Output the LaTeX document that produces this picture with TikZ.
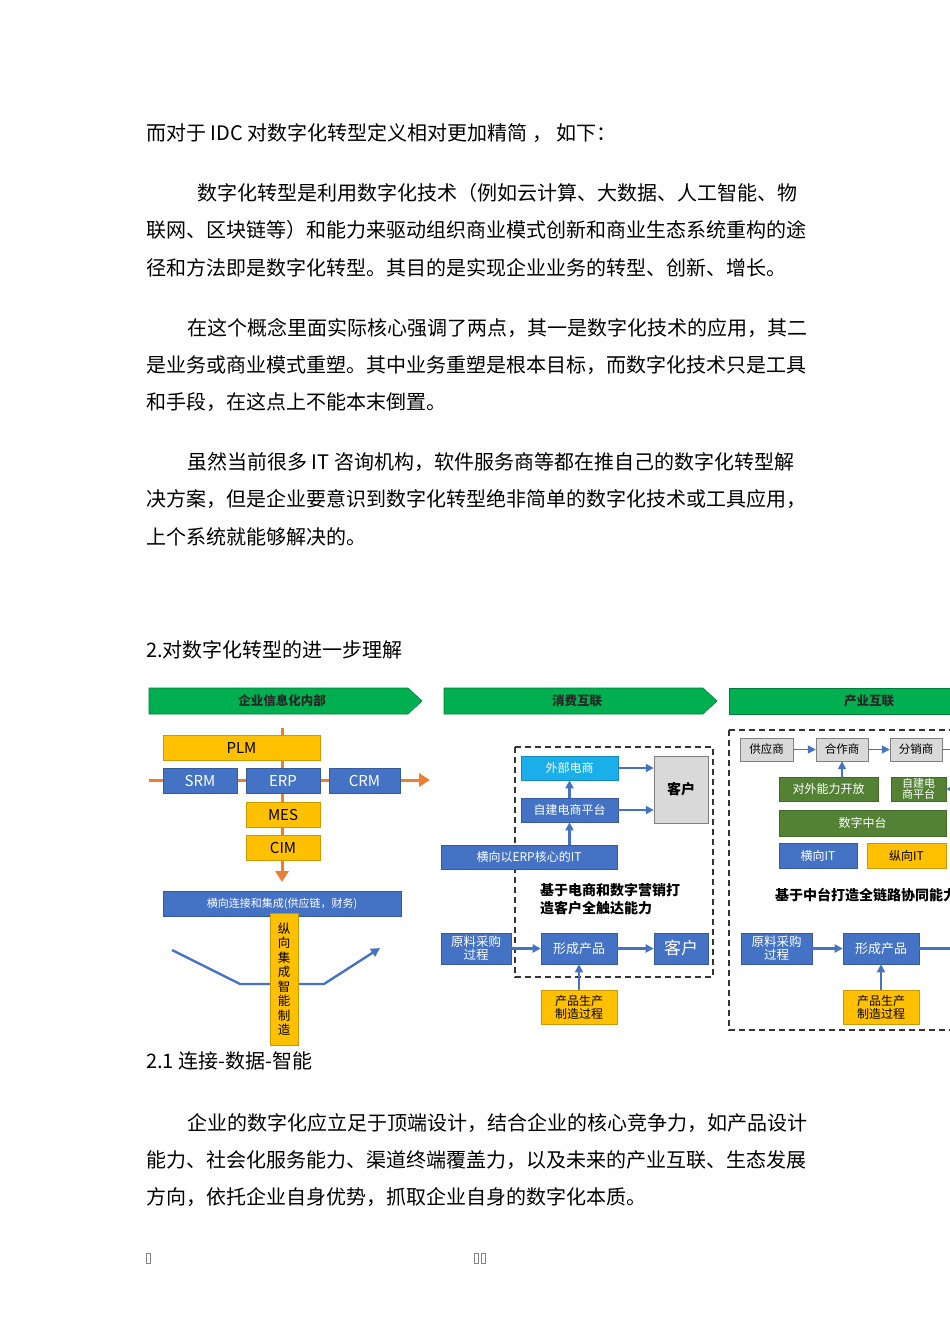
\documentclass[tikz,border=0pt]{standalone}
\usepackage{fontspec}
\setmainfont{Noto Sans CJK SC}
\usetikzlibrary{arrows.meta}
\definecolor{bl}{HTML}{4472C4}
\definecolor{ye}{HTML}{FFC000}
\definecolor{orn}{HTML}{ED7D31}
\definecolor{gr}{HTML}{00B050}
\definecolor{dg}{HTML}{548235}
\definecolor{lb}{HTML}{1AAEEA}
\definecolor{gy}{HTML}{D9D9D9}
\tikzset{
 bx/.style={draw=#1!80!black,line width=0.6pt,inner sep=0pt,align=center,font=\fontsize{12}{13}\selectfont,text=white},
 bbx/.style={bx=bl,fill=bl},
 ybx/.style={bx=ye,fill=ye,text=black},
 gbx/.style={bx=dg,fill=dg},
 gybx/.style={draw=gray,fill=gy,inner sep=0pt,align=center,font=\fontsize{11.5}{12}\selectfont,text=black},
 body/.style={anchor=west,inner sep=0pt,font=\fontsize{20}{22}\selectfont},
 arr/.style={-{Triangle[length=8pt,width=8pt]},bl,line width=2.4pt},
 dbox/.style={dashed,dash pattern=on 6pt off 4pt,line width=1.6pt,black!80},
 ban/.style={fill=gr,draw=gr!70!black,line width=0.6pt},
 bantext/.style={font=\bfseries\fontsize{12.5}{13}\selectfont,text=black!85}
}
\begin{document}
\begin{tikzpicture}[x=1pt,y=-1pt]
\useasboundingbox (0,0) rectangle (950,1344);
\clip (0,0) rectangle (950,1344);
% body text
\node[body] (t1) at (146,133) {而对于 IDC 对数字化转型定义相对更加精简 ， 如下：};
\node[body] (t2) at (197,193) {数字化转型是利用数字化技术（例如云计算、大数据、人工智能、物};
\node[body] (t3) at (146,230) {联网、区块链等）和能力来驱动组织商业模式创新和商业生态系统重构的途};
\node[body] (t4) at (146,268) {径和方法即是数字化转型。其目的是实现企业业务的转型、创新、增长。};
\node[body] (t5) at (187,328) {在这个概念里面实际核心强调了两点，其一是数字化技术的应用，其二};
\node[body] (t6) at (146,365) {是业务或商业模式重塑。其中业务重塑是根本目标，而数字化技术只是工具};
\node[body] (t7) at (146,402) {和手段，在这点上不能本末倒置。};
\node[body] (t8) at (187,462) {虽然当前很多 IT 咨询机构，软件服务商等都在推自己的数字化转型解};
\node[body] (t9) at (146,499) {决方案，但是企业要意识到数字化转型绝非简单的数字化技术或工具应用，};
\node[body] (t10) at (146,537) {上个系统就能够解决的。};
\node[body] (t11) at (146,650) {2.对数字化转型的进一步理解};
\node[body] (t12) at (146,1061) {2.1 连接-数据-智能};
\node[body] (t13) at (187,1123) {企业的数字化应立足于顶端设计，结合企业的核心竞争力，如产品设计};
\node[body] (t14) at (146,1160) {能力、社会化服务能力、渠道终端覆盖力，以及未来的产业互联、生态发展};
\node[body] (t15) at (146,1197) {方向，依托企业自身优势，抓取企业自身的数字化本质。};
\draw[gray,line width=0.6pt] (146,1253) rectangle (150,1263) (474,1253) rectangle (478,1263) (481,1253) rectangle (485,1263);
% banners
\draw[ban] (149,688)--(408,688)--(422,701)--(408,714)--(149,714)--cycle;
\node[bantext] (b1) at (282,701) {企业信息化内部};
\draw[ban] (444,688)--(703,688)--(717,701)--(703,714)--(444,714)--cycle;
\node[bantext] (b2) at (577,701) {消费互联};
\draw[ban] (729,688)--(960,688)--(960,714)--(729,714)--cycle;
\node[bantext] (b3) at (869,701) {产业互联};
% panel 1
\coordinate (vt) at (282,728); \coordinate (vb) at (282,882);
\coordinate (hl) at (149,780); \coordinate (hr) at (430,780);
\draw[orn,line width=3pt,-{Triangle[length=11pt,width=13pt]}] (vt)--(vb);
\draw[orn,line width=3pt,-{Triangle[length=11pt,width=13pt]}] (hl)--(hr);
\node[ybx,minimum width=157,minimum height=25,font=\fontsize{15}{16}\selectfont] (plm) at (241.5,747.5) {PLM};
\node[bbx,minimum width=74,minimum height=25,font=\fontsize{15}{16}\selectfont] (srm) at (200,780.5) {SRM};
\node[bbx,minimum width=74,minimum height=25,font=\fontsize{15}{16}\selectfont] (erp) at (283,780.5) {ERP};
\node[bbx,minimum width=71,minimum height=25,font=\fontsize{15}{16}\selectfont] (crm) at (364.5,780.5) {CRM};
\node[ybx,minimum width=74,minimum height=25,font=\fontsize{15}{16}\selectfont] (mes) at (283,814.5) {MES};
\node[ybx,minimum width=74,minimum height=25,font=\fontsize{15}{16}\selectfont] (cim) at (283,847.5) {CIM};
\coordinate (p1) at (172,950); \coordinate (p2) at (240,984); \coordinate (p3) at (324,984); \coordinate (p4) at (380,948);
\draw[bl,line width=2.4pt,-{Triangle[length=9pt,width=9pt]}] (p1)--(p2)--(p3)--(p4);
\node[bbx,minimum width=238,minimum height=25,font=\fontsize{11}{12}\selectfont] (hx) at (282,903.5) {横向连接和集成(供应链，财务)};
\node[ybx,minimum width=28,minimum height=132,font=\fontsize{12.5}{14.5}\selectfont] (zx) at (284,979) {纵\\向\\集\\成\\智\\能\\制\\造};
% panel 2
\draw[dbox] (515,747) rectangle (713,977);
\node[bx=lb,fill=lb,minimum width=97,minimum height=24] (wb) at (569.5,768) {外部电商};
\node[gybx,minimum width=54,minimum height=67,font=\bfseries\fontsize{14}{15}\selectfont] (kh1) at (681,789.5) {客户};
\node[bbx,minimum width=97,minimum height=24] (zj) at (569.5,810) {自建电商平台};
\node[bbx,minimum width=176,minimum height=24] (it) at (529,857) {横向以ERP核心的IT};
\node[bbx,minimum width=70,minimum height=31,font=\fontsize{12.5}{13}\selectfont] (yl) at (476,948.5) {原料采购\\过程};
\node[bbx,minimum width=76,minimum height=31,font=\fontsize{13}{14}\selectfont] (xc) at (579,948.5) {形成产品};
\node[bbx,minimum width=54,minimum height=31,font=\fontsize{17}{18}\selectfont] (kh2) at (681,948.5) {客户};
\node[ybx,minimum width=76,minimum height=34,font=\fontsize{12}{13}\selectfont] (cp) at (579,1007) {产品生产\\制造过程};
\node[anchor=north west,align=left,inner sep=0pt,font=\bfseries\fontsize{14}{18}\selectfont] (lab2) at (540,883) {基于电商和数字营销打\\造客户全触达能力};
\draw[arr] (wb.east) -- (wb.east -| kh1.west);
\draw[arr] (zj.east) -- (zj.east -| kh1.west);
\draw[arr] (zj.north) -- (wb.south);
\draw[arr] (it.north -| zj.south) -- (zj.south);
\draw[arr] (yl) -- (xc);
\draw[arr] (xc) -- (kh2);
\draw[arr] (cp) -- (xc);
% panel 3
\draw[dbox] (729,730) -- (960,730) (729,730) -- (729,1030) -- (960,1030);
\node[gybx,minimum width=53,minimum height=23] (gy) at (766.5,749.5) {供应商};
\node[gybx,minimum width=52,minimum height=23] (hz) at (842,749.5) {合作商};
\node[gybx,minimum width=52,minimum height=23] (fx) at (916,749.5) {分销商};
\coordinate (fxo) at (960,749.5);
\node[gbx,minimum width=99,minimum height=24] (dw) at (828.5,789) {对外能力开放};
\node[gbx,minimum width=55,minimum height=24,font=\fontsize{11}{11.5}\selectfont] (zj3) at (918.5,789) {自建电\\商平台};
\coordinate (zjin) at (960,789);
\node[gbx,minimum width=167,minimum height=26] (sz) at (862.5,823) {数字中台};
\node[bbx,minimum width=78,minimum height=25] (hit) at (818,855.5) {横向IT};
\node[ybx,minimum width=79,minimum height=25] (zit) at (906.5,855.5) {纵向IT};
\node[anchor=west,inner sep=0pt,font=\bfseries\fontsize{14}{16}\selectfont] (lab3) at (775,895) {基于中台打造全链路协同能力};
\node[bbx,minimum width=71,minimum height=31,font=\fontsize{12.5}{13}\selectfont] (yl3) at (776.5,948.5) {原料采购\\过程};
\node[bbx,minimum width=76,minimum height=31,font=\fontsize{13}{14}\selectfont] (xc3) at (881,948.5) {形成产品};
\coordinate (xco) at (960,948.5);
\node[ybx,minimum width=76,minimum height=34,font=\fontsize{12}{13}\selectfont] (cp3) at (881,1007) {产品生产\\制造过程};
\draw[arr,line width=1.6pt] (gy) -- (hz);
\draw[arr,line width=1.6pt] (hz) -- (fx);
\draw[bl,line width=1.6pt] (fx) -- (fxo);
\draw[arr,line width=1.6pt] (dw.north -| hz.south) -- (hz.south);
\draw[arr,line width=1.6pt] (zjin) -- (zj3.east);
\draw[arr] (yl3) -- (xc3);
\draw[arr] (xc3) -- (xco);
\draw[arr] (cp3) -- (xc3);
\end{tikzpicture}
\end{document}
